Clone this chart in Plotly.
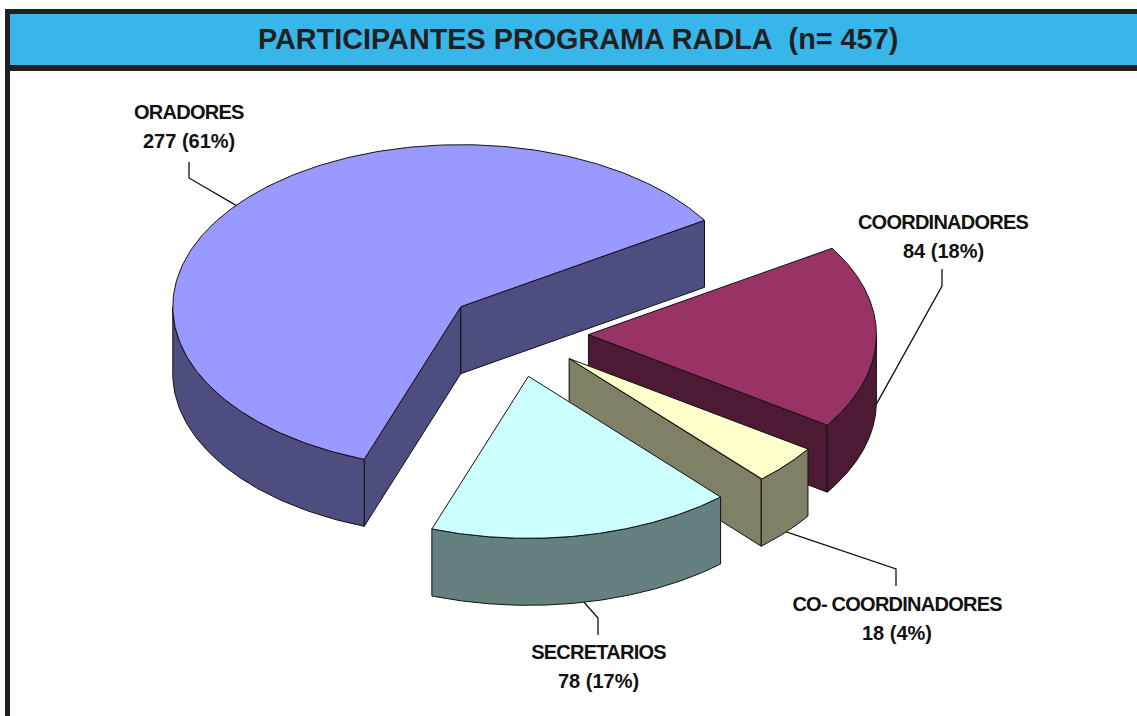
import numpy as np
import plotly.graph_objects as go

# Data
categories = ["ORADORES", "SECRETARIOS", "CO- COORDINADORES", "COORDINADORES"]
values = [277, 78, 18, 84]
percent_labels = ["61%", "17%", "4%", "18%"]
title_text = "PARTICIPANTES PROGRAMA RADLA\u00a0\u00a0(n= 457)"

# Styles
top_colors = ["#9999FF", "#CCFFFF", "#FFFFCC", "#993366"]
side_colors = ["#4D4D80", "#668080", "#808066", "#4D1A33"]
draw_order = [0, 3, 2, 1]

# Pie projection (canvas pixels)
W, H = 1137, 716
CX, CY = 517.0, 333.0
RX, RY = 288.0, 162.0
DEPTH = 67.0
START_DEG = 32.2
pull = [0.25, 0.26, 0.24, 0.248]
pull_nudge = [(0, -1), (-3, 2), (0, 0), (0, 1)]

# Label layout: centre of the two text lines, and leader elbow/tail positions
label_pos = {0: (189, 112, 141), 3: (943, 222, 251), 2: (897, 604, 633), 1: (598, 652, 681)}
leader_pts = {0: ((189, 178), (189, 162)), 3: ((942, 286), (942, 269)),
              2: ((896, 569), (896, 586)), 1: ((598, 618), (598, 635))}

total = sum(values)
angles = np.cumsum([0] + values) / total * 360.0 + START_DEG


def polygon(x, y, fill):
    return go.Scatter(x=x, y=y, mode="lines", fill="toself", fillcolor=fill,
                      line=dict(color="#111111", width=1), hoverinfo="skip", showlegend=False)


def project(ax, ay, deg, r=1.0, drop=0.0):
    t = np.radians(deg)
    return ax + r * RX * np.cos(t), ay - r * RY * np.sin(t) + drop


fig = go.Figure()
apexes = {}
for i in range(len(values)):
    mid = (angles[i] + angles[i + 1]) / 2
    px, py = project(CX, CY, mid, pull[i])
    apexes[i] = (px + pull_nudge[i][0], py + pull_nudge[i][1])

for i in draw_order:
    a0, a1 = angles[i], angles[i + 1]
    ax, ay = apexes[i]
    # cut faces that look towards the viewer
    for deg, normal in ((a1, a1 + 90), (a0, a0 - 90)):
        if np.sin(np.radians(normal)) < 0:
            ex, ey = project(ax, ay, deg)
            fig.add_trace(polygon([ax, ex, ex, ax, ax], [ay, ey, ey + DEPTH, ay + DEPTH, ay], side_colors[i]))
    # outer wall: front half of the rim
    arc = np.linspace(a0, a1, 240)
    front = arc[np.sin(np.radians(arc)) <= 0]
    if front.size:
        fx, fy = project(ax, ay, front)
        fig.add_trace(polygon(np.r_[fx, fx[::-1], fx[0]], np.r_[fy, fy[::-1] + DEPTH, fy[0]], side_colors[i]))
    # top
    tx, ty = project(ax, ay, arc)
    fig.add_trace(polygon(np.r_[ax, tx, ax], np.r_[ay, ty, ay], top_colors[i]))

# Leaders
for i in range(len(values)):
    mid = (angles[i] + angles[i + 1]) / 2
    ax, ay = apexes[i]
    drop = 0.0 if np.sin(np.radians(mid)) > 0 else DEPTH
    sx, sy = project(ax, ay, mid, 1.0, drop)
    (ex, ey), (lx, ly) = leader_pts[i]
    fig.add_trace(go.Scatter(x=[sx, ex, lx], y=[sy, ey, ly], mode="lines",
                             line=dict(color="#111111", width=1.3), hoverinfo="skip", showlegend=False))

# Frame
INK = "#231F20"
shapes = [
    dict(type="rect", x0=5, x1=W, y0=9, y1=71, fillcolor=INK, line_width=0, layer="above"),
    dict(type="rect", x0=10, x1=W, y0=14, y1=65, fillcolor="#39B6E9", line_width=0, layer="above"),
    dict(type="rect", x0=5, x1=10, y0=9, y1=H, fillcolor=INK, line_width=0, layer="above"),
]

annotations = [dict(x=577.5, y=39, text=f"<b>{title_text}</b>", showarrow=False, xref="x", yref="y",
                    font=dict(family="Liberation Sans", size=28.8, color="#231F20"))]
for i in range(len(values)):
    x, y1, y2 = label_pos[i]
    annotations.append(dict(x=x, y=y1, text=f"<b>{categories[i]}</b>", showarrow=False, xref="x", yref="y",
                            font=dict(family="Liberation Sans", size=20, color="#111111")))
    annotations.append(dict(x=x, y=y2, text=f"<b>{values[i]} ({percent_labels[i]})</b>", showarrow=False,
                            xref="x", yref="y",
                            font=dict(family="Liberation Sans", size=20, color="#111111")))

fig.update_layout(
    width=W, height=H, autosize=False, margin=dict(l=0, r=0, t=0, b=0),
    paper_bgcolor="white", plot_bgcolor="white",
    xaxis=dict(range=[0, W], visible=False, fixedrange=True),
    yaxis=dict(range=[H, 0], visible=False, fixedrange=True),
    shapes=shapes, annotations=annotations, showlegend=False,
)
tighten = """
document.body.style.margin='0';
document.documentElement.style.overflow='hidden';
document.querySelectorAll('.annotation-text').forEach(function(t){
  var s=t.textContent;
  if(!/[0-9]/.test(s)){t.style.letterSpacing='-0.75px';}
});
"""
fig.write_html("out.html", config={"displayModeBar": False}, post_script=tighten)
